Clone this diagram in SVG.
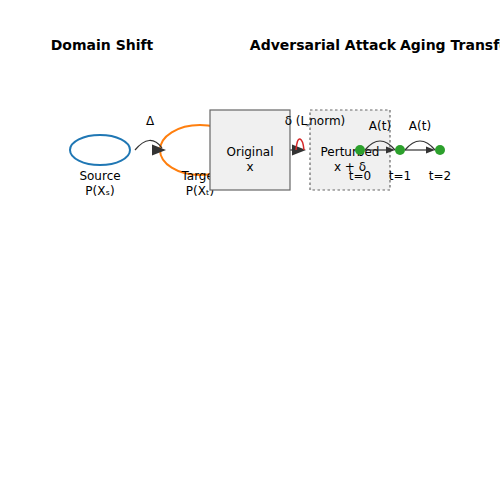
<svg xmlns="http://www.w3.org/2000/svg" width="500" height="500" viewBox="0 0 500 500">
<style>
text{font-family:"DejaVu Sans","Liberation Sans",sans-serif;fill:#000}
.t{font-size:14px;font-weight:bold;text-anchor:middle}
.l{font-size:12px;text-anchor:middle}
.box{fill:#f0f0f0;stroke:#666;stroke-width:1.2}
.arc{fill:none;stroke:#333;stroke-width:1.2}
.head{fill:#333}
.dot{fill:#2ca02c}
</style>
<rect width="500" height="500" fill="#fff"/>
<text class="t" x="102" y="50">Domain Shift</text>
<text class="t" x="323" y="50">Adversarial Attack</text>
<text class="t" x="400" y="50" style="text-anchor:start">Aging Transformation</text>

<g id="source">
<ellipse cx="100" cy="150" rx="30" ry="15" fill="none" stroke="#1f77b4" stroke-width="2"/>
<text class="l" x="100" y="180">Source</text>
<text class="l" x="100" y="195">P(Xₛ)</text>
</g>
<g id="target">
<ellipse cx="200" cy="150" rx="40" ry="25" fill="none" stroke="#ff7f0e" stroke-width="2"/>
<text class="l" x="200" y="180">Target</text>
<text class="l" x="200" y="195">P(Xₜ)</text>
</g>
<g id="connectors">
<path class="arc" d="M135,150 Q150,132 162,148"/>
<polygon class="head" points="152,144.5 166,150 152,155.5"/>
<text class="l" x="150" y="125">Δ</text>
<line x1="290" y1="150" x2="300" y2="150" stroke="#333" stroke-width="1.2"/>
<polygon class="head" points="292,144.5 306,150 292,155.5"/>
<path d="M296,150 Q297,138 300,139 Q303,140 304,150" fill="none" stroke="#d62728" stroke-width="1.5"/>
</g>
<g id="original">
<rect class="box" x="210" y="110" width="80" height="80"/>
<text class="l" x="250" y="156">Original</text>
<text class="l" x="250" y="171">x</text>
</g>
<g id="perturbed">
<rect class="box" x="310" y="110" width="80" height="80" stroke-dasharray="2.5,2.5"/>
<text class="l" x="350" y="156">Perturbed</text>
<text class="l" x="350" y="171">x + δ</text>
</g>
<text class="l" x="315" y="125">δ (L<tspan font-size="6" dx="-2" dy="2">∞</tspan><tspan dx="-1" dy="-2">norm)</tspan></text>
<g id="aging-connectors">
<line x1="365" y1="150" x2="388" y2="150" stroke="#333" stroke-width="1.2"/>
<polygon class="head" points="386,146.5 395,150 386,153.5"/>
<path class="arc" d="M365,150 Q380,132 395,150"/>
<line x1="405" y1="150" x2="428" y2="150" stroke="#333" stroke-width="1.2"/>
<polygon class="head" points="426,146.5 435,150 426,153.5"/>
<path class="arc" d="M405,150 Q420,132 435,150"/>
<text class="l" x="380" y="130">A(t)</text>
<text class="l" x="420" y="130">A(t)</text>
</g>
<g id="t0"><circle class="dot" cx="360" cy="150" r="5"/><text class="l" x="360" y="180">t=0</text></g>
<g id="t1"><circle class="dot" cx="400" cy="150" r="5"/><text class="l" x="400" y="180">t=1</text></g>
<g id="t2"><circle class="dot" cx="440" cy="150" r="5"/><text class="l" x="440" y="180">t=2</text></g>
</svg>
